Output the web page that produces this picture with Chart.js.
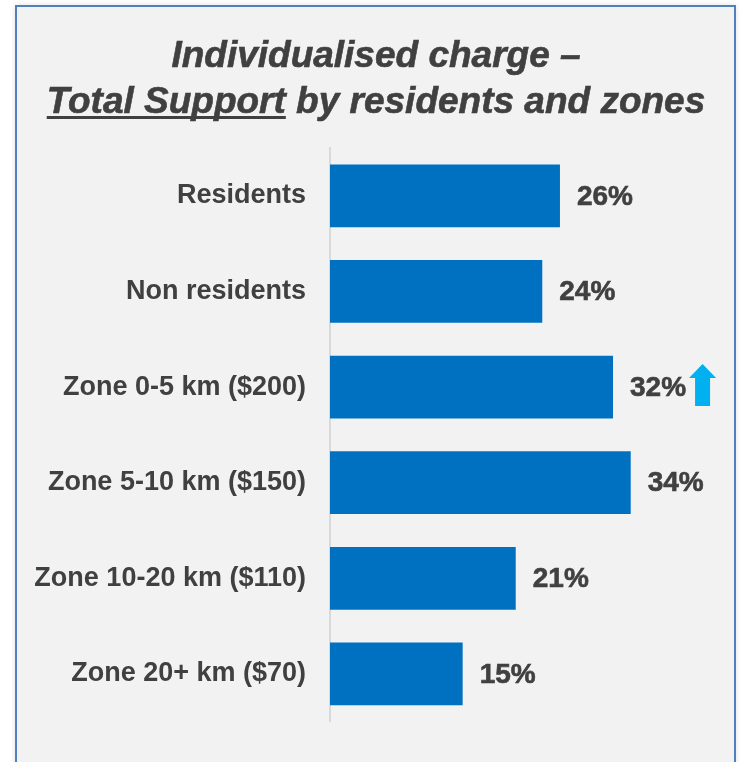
<!DOCTYPE html>
<html>
<head>
<meta charset="utf-8">
<script src="https://cdn.jsdelivr.net/npm/chart.js@4"></script>
<style>
  body { margin: 0; background: #ffffff; }
  #wrap { width: 740px; height: 762px; }
</style>
</head>
<body>
<div id="wrap"><canvas id="myChart" width="740" height="762"></canvas></div>
<script>
// chart data
const categories = [
    "Residents",
    "Non residents",
    "Zone 0-5 km ($200)",
    "Zone 5-10 km ($150)",
    "Zone 10-20 km ($110)",
    "Zone 20+ km ($70)"
];
const support = [26, 24, 32, 34, 21, 15];
const upArrow = [false, false, true, false, false, false];
const titleLine1 = "Individualised charge \u2013";
const titleUnderlined = "Total Support";
const titleRest = " by residents and zones";

const textColor = "#404040";

// grey panel with blue frame behind everything
const panelPlugin = {
    id: "panel",
    beforeDraw(chart) {
        const c = chart.ctx;
        c.save();
        c.fillStyle = "#ffffff";
        c.fillRect(0, 0, chart.width, chart.height);
        c.shadowColor = "rgba(0,0,0,0.18)";
        c.shadowBlur = 6;
        c.fillStyle = "#f2f2f2";
        c.fillRect(16, 6, 719, 770);
        c.shadowColor = "transparent";
        c.strokeStyle = "#4f81bd";
        c.lineWidth = 2;
        c.strokeRect(16, 6, 719, 770);
        c.restore();
    }
};

// two line title, part of second line underlined
const titlePlugin = {
    id: "bigTitle",
    afterDraw(chart) {
        const c = chart.ctx;
        const cx = 376;
        c.save();
        c.font = "italic bold 37px 'Liberation Sans', Arial, sans-serif";
        c.fillStyle = textColor;
        c.strokeStyle = textColor;
        c.lineWidth = 0.6;
        c.textBaseline = "alphabetic";
        c.textAlign = "center";
        c.fillText(titleLine1, cx, 67);
        c.strokeText(titleLine1, cx, 67);

        c.textAlign = "left";
        const w1 = c.measureText(titleUnderlined).width;
        const w2 = c.measureText(titleRest).width;
        let x = cx - (w1 + w2) / 2;
        c.fillText(titleUnderlined, x, 113);
        c.strokeText(titleUnderlined, x, 113);
        c.fillRect(x, 116, w1, 3);
        c.fillText(titleRest, x + w1, 113);
        c.strokeText(titleRest, x + w1, 113);
        c.restore();
    }
};

// value labels + the up arrow
const valuePlugin = {
    id: "values",
    afterDatasetsDraw(chart) {
        const c = chart.ctx;
        const meta = chart.getDatasetMeta(0);
        c.save();
        c.font = "bold 28px 'Liberation Sans', Arial, sans-serif";
        c.fillStyle = textColor;
        c.strokeStyle = textColor;
        c.lineWidth = 0.6;
        c.textBaseline = "middle";
        c.textAlign = "left";
        meta.data.forEach((bar, i) => {
            const txt = support[i] + "%";
            const x = bar.x + 17;
            c.fillText(txt, x, bar.y + 1);
            c.strokeText(txt, x, bar.y + 1);
            if (upArrow[i]) {
                const ax = x + c.measureText(txt).width + 3;
                const top = bar.y - 23;
                c.fillStyle = "#00b0f0";
                c.beginPath();
                c.moveTo(ax + 13.5, top);
                c.lineTo(ax + 27, top + 14);
                c.lineTo(ax + 21, top + 14);
                c.lineTo(ax + 21, top + 42);
                c.lineTo(ax + 6, top + 42);
                c.lineTo(ax + 6, top + 14);
                c.lineTo(ax, top + 14);
                c.closePath();
                c.fill();
                c.fillStyle = textColor;
            }
        });
        c.restore();
    }
};

const ctx = document.getElementById("myChart").getContext("2d");
const chart = new Chart(ctx, {
    type: "bar",
    data: {
        labels: categories,
        datasets: [{
            data: support,
            backgroundColor: "#0070c0",
            barPercentage: 0.656,
            categoryPercentage: 1
        }]
    },
    options: {
        indexAxis: "y",
        responsive: false,
        animation: false,
        layout: {
            padding: { top: 148, right: 12, bottom: 39, left: 0 }
        },
        scales: {
            x: {
                display: false,
                min: 0,
                max: 45
            },
            y: {
                afterFit(scale) {
                    scale.width = 330;
                },
                grid: {
                    display: false,
                    drawTicks: false
                },
                border: {
                    display: true,
                    color: "#d9d9d9",
                    width: 2
                },
                ticks: {
                    color: textColor,
                    padding: 24,
                    font: {
                        family: "'Liberation Sans', Arial, sans-serif",
                        size: 27,
                        weight: "bold"
                    }
                }
            }
        },
        plugins: {
            legend: { display: false },
            tooltip: { enabled: false },
            title: { display: false }
        }
    },
    plugins: [panelPlugin, titlePlugin, valuePlugin]
});
</script>
</body>
</html>
